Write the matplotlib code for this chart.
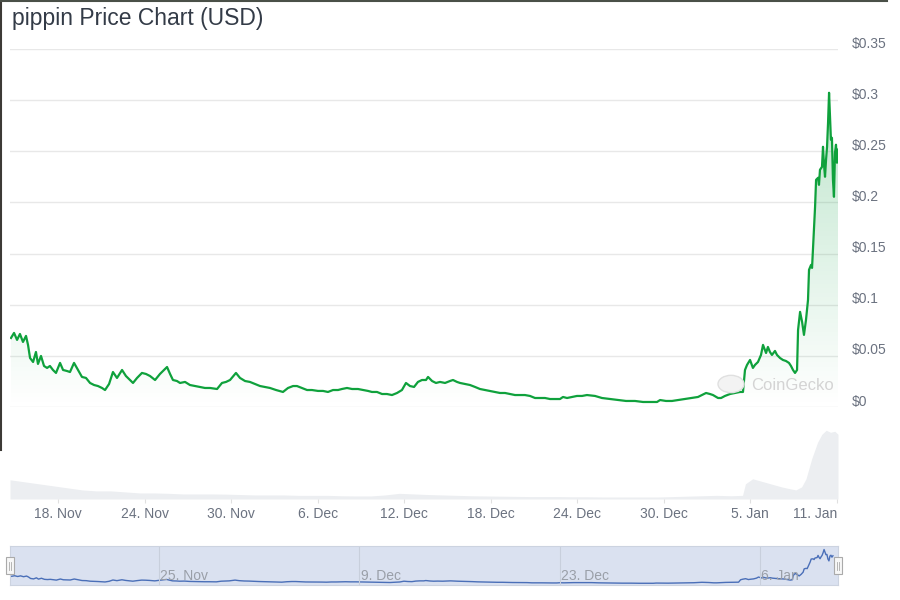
import numpy as np
import pandas as pd
import matplotlib
matplotlib.use('Agg')
import matplotlib.pyplot as plt
import matplotlib.dates as mdates
from matplotlib.transforms import ScaledTranslation
from matplotlib.patches import Rectangle, Circle
from matplotlib.lines import Line2D

plt.rcParams['font.family'] = ['Liberation Sans', 'DejaVu Sans']

start = pd.Timestamp('2024-11-14 16:00')

# price: days since start, USD
days = [0.07, 0.28, 0.49, 0.69, 0.90, 1.11, 1.25, 1.39, 1.60, 1.80,
        1.94, 2.15, 2.36, 2.57, 2.77, 2.98, 3.19, 3.47, 3.68, 3.95,
        4.16, 4.44, 4.72, 4.99, 5.27, 5.55, 5.83, 6.10, 6.38, 6.59,
        6.87, 7.14, 7.42, 7.77, 8.04, 8.32, 8.53, 8.81, 9.15, 9.43,
        9.71, 10.06, 10.40, 10.68, 10.89, 11.10, 11.30, 11.58, 11.79, 12.14,
        12.48, 12.83, 13.18, 13.52, 13.87, 14.36, 14.70, 14.98, 15.26, 15.67,
        15.95, 16.30, 16.64, 16.99, 17.34, 17.68, 18.03, 18.45, 18.93, 19.28,
        19.63, 19.90, 20.25, 20.60, 20.94, 21.36, 21.71, 22.05, 22.40, 22.75,
        23.02, 23.37, 23.72, 24.13, 24.48, 24.83, 25.10, 25.45, 25.80, 26.14,
        26.49, 26.84, 27.18, 27.46, 27.74, 28.02, 28.29, 28.57, 28.85, 28.99,
        29.27, 29.54, 29.82, 30.17, 30.51, 30.72, 31.00, 31.21, 31.55, 31.90,
        32.25, 32.59, 32.94, 33.29, 33.63, 33.98, 34.33, 34.67, 35.02, 35.37,
        35.71, 36.06, 36.41, 36.75, 37.10, 37.45, 37.79, 38.14, 38.35, 38.63,
        38.97, 39.32, 39.67, 40.01, 40.57, 41.05, 41.61, 42.16, 42.72, 43.34,
        43.90, 44.52, 44.87, 45.08, 45.49, 45.91, 46.33, 46.81, 47.30, 47.71,
        47.99, 48.27, 48.54, 48.75, 49.10, 49.31, 49.58, 49.93, 50.28, 50.62,
        50.83, 50.97, 51.11, 51.32, 51.52, 51.66, 51.87, 52.08, 52.22, 52.43,
        52.56, 52.70, 52.84, 53.05, 53.19, 53.40, 53.60, 53.81, 54.02, 54.16,
        54.30, 54.44, 54.58, 54.65, 54.79, 54.93, 55.06, 55.20, 55.34, 55.41,
        55.55, 55.62, 55.69, 55.83, 55.90, 56.04, 56.10, 56.17, 56.31, 56.38,
        56.45, 56.52, 56.59, 56.66, 56.73, 56.80, 56.86, 56.93, 57.00, 57.07,
        57.14, 57.21, 57.28, 57.35, 57.42]
prices = [0.0675, 0.0724, 0.0656, 0.0714, 0.0636, 0.0695, 0.0607, 0.0479, 0.0440, 0.0538,
          0.0421, 0.0499, 0.0401, 0.0382, 0.0401, 0.0362, 0.0333, 0.0431, 0.0362, 0.0352,
          0.0342, 0.0431, 0.0362, 0.0294, 0.0284, 0.0235, 0.0215, 0.0205, 0.0186, 0.0166,
          0.0225, 0.0342, 0.0284, 0.0362, 0.0303, 0.0264, 0.0235, 0.0284, 0.0333, 0.0323,
          0.0303, 0.0264, 0.0323, 0.0362, 0.0391, 0.0323, 0.0264, 0.0254, 0.0235, 0.0245,
          0.0215, 0.0205, 0.0196, 0.0186, 0.0186, 0.0176, 0.0235, 0.0245, 0.0264, 0.0333,
          0.0284, 0.0254, 0.0245, 0.0225, 0.0205, 0.0196, 0.0186, 0.0166, 0.0147, 0.0186,
          0.0205, 0.0205, 0.0186, 0.0166, 0.0166, 0.0157, 0.0157, 0.0147, 0.0166, 0.0166,
          0.0176, 0.0186, 0.0176, 0.0176, 0.0166, 0.0157, 0.0147, 0.0147, 0.0127, 0.0127,
          0.0117, 0.0137, 0.0166, 0.0235, 0.0205, 0.0196, 0.0245, 0.0264, 0.0264, 0.0294,
          0.0254, 0.0235, 0.0245, 0.0235, 0.0254, 0.0264, 0.0245, 0.0235, 0.0225, 0.0215,
          0.0196, 0.0176, 0.0166, 0.0157, 0.0147, 0.0137, 0.0137, 0.0127, 0.0117, 0.0117,
          0.0117, 0.0108, 0.0088, 0.0088, 0.0088, 0.0078, 0.0078, 0.0078, 0.0098, 0.0088,
          0.0098, 0.0108, 0.0108, 0.0117, 0.0108, 0.0088, 0.0078, 0.0068, 0.0059, 0.0059,
          0.0049, 0.0049, 0.0049, 0.0068, 0.0059, 0.0059, 0.0068, 0.0078, 0.0088, 0.0098,
          0.0117, 0.0137, 0.0127, 0.0117, 0.0088, 0.0088, 0.0108, 0.0127, 0.0137, 0.0147,
          0.0147, 0.0362, 0.0411, 0.0460, 0.0382, 0.0411, 0.0440, 0.0509, 0.0607, 0.0528,
          0.0587, 0.0538, 0.0509, 0.0548, 0.0509, 0.0479, 0.0460, 0.0450, 0.0431, 0.0401,
          0.0362, 0.0333, 0.0362, 0.0753, 0.0930, 0.0832, 0.0705, 0.0851, 0.1047, 0.1341,
          0.1389, 0.1360, 0.1566, 0.1957, 0.2221, 0.2241, 0.2172, 0.2319, 0.2348, 0.2544,
          0.2368, 0.2251, 0.2417, 0.2544, 0.2779, 0.3072, 0.2857, 0.2613, 0.2632, 0.2221,
          0.2055, 0.2485, 0.2564, 0.2388, 0.2515]

# volume (USD millions)
vol_days = [0, 1, 2, 3, 4, 5, 6, 7, 8, 9, 10, 11, 12, 13, 14, 15, 16, 17, 18, 19,
            20, 21, 22, 23, 24, 25, 26, 27, 28, 29, 30, 31, 32, 33, 34, 35, 36, 37, 38, 39,
            40, 41, 42, 43, 44, 45, 46, 47, 48, 49, 50, 50.8, 51.0, 51.5, 52.0, 52.5, 53.0, 53.5,
            54.0, 54.5, 54.9, 55.2, 55.6, 56.0, 56.3, 56.6, 56.9, 57.2, 57.42]
volume = [95, 85, 75, 65, 55, 45, 40, 40, 35, 30, 30, 28, 25, 25, 25, 24, 22, 20, 20, 20,
          18, 18, 18, 16, 15, 15, 20, 28, 25, 22, 20, 18, 16, 15, 14, 13, 12, 12, 12, 11,
          11, 10, 10, 10, 10, 10, 12, 14, 16, 18, 16, 18, 75, 100, 90, 80, 70, 60,
          52, 45, 60, 100, 200, 280, 320, 340, 330, 335, 320]

y_ticks = [0, 0.05, 0.1, 0.15, 0.2, 0.25, 0.3, 0.35]
y_labels = ['$0', '$0.05', '$0.1', '$0.15', '$0.2', '$0.25', '$0.3', '$0.35']
x_ticks = ['2024-11-18', '2024-11-24', '2024-11-30', '2024-12-06', '2024-12-12',
           '2024-12-18', '2024-12-24', '2024-12-30', '2025-01-05', '2025-01-11']
x_labels = ['18. Nov', '24. Nov', '30. Nov', '6. Dec', '12. Dec',
            '18. Dec', '24. Dec', '30. Dec', '5. Jan', '11. Jan']
nav_ticks = ['2024-11-25', '2024-12-09', '2024-12-23', '2025-01-06']
nav_labels = ['25. Nov', '9. Dec', '23. Dec', '6. Jan']

t = start + pd.to_timedelta(days, unit='D')
tv = start + pd.to_timedelta(vol_days, unit='D')
x0 = mdates.date2num(start)
x1 = mdates.date2num(start + pd.Timedelta(days=57.42))
# navigator window is a little wider than the main one
nav0 = mdates.date2num(pd.Timestamp('2024-11-25') - pd.Timedelta(days=10.38))
nav1 = mdates.date2num(pd.Timestamp('2024-11-25') + pd.Timedelta(days=47.44))

green = '#0fa13c'
grey_txt = '#6b7280'

fig = plt.figure(figsize=(9, 6), dpi=100)
W, H = 900, 600
def box(l, top, r, bot):
    return [l / W, 1 - bot / H, (r - l) / W, (bot - top) / H]

ax = fig.add_axes(box(10, 49, 838, 407))
axv = fig.add_axes(box(10, 407, 838, 499))
axn = fig.add_axes(box(10, 546, 838, 585))

# price
ax.plot(t, prices, color=green, lw=1.6, zorder=3, solid_joinstyle='round')
poly = ax.fill_between(t, prices, 0, color='none', lw=0)
grad = np.zeros((256, 1, 4))
grad[:, 0, 0] = 22 / 255
grad[:, 0, 1] = 163 / 255
grad[:, 0, 2] = 74 / 255
grad[:, 0, 3] = np.linspace(0.0, 0.32, 256)
im = ax.imshow(grad, extent=[x0, x1, 0, 0.35], origin='lower', aspect='auto', zorder=2)
im.set_clip_path(poly.get_paths()[0], ax.transData)
ax.set_xlim(x0, x1)
ax.set_ylim(0, 0.35)
ax.set_yticks(y_ticks)
ax.set_yticklabels(y_labels)
ax.yaxis.tick_right()
ax.tick_params(axis='y', length=0, pad=10, labelsize=10, labelcolor=grey_txt)
for lab in ax.get_yticklabels():
    lab.set_transform(lab.get_transform() + ScaledTranslation(0, 5 / 72, fig.dpi_scale_trans))
ax.set_xticks([])
ax.grid(axis='y', color='#e8e8e8', lw=1)
ax.set_axisbelow(True)
for s in ax.spines.values():
    s.set_visible(False)
ax.patch.set_alpha(0)

# watermark
fig.add_artist(Circle((731 / W, 1 - 384 / H), 13 / W, transform=fig.transFigure,
                      facecolor='#f3f3f3', edgecolor='#e0e0e0', lw=1, zorder=1))
fig.text(751 / W, 1 - 385 / H, 'CoinGecko', fontsize=12, color='#d4d4d4',
         va='center', ha='left')

# volume
axv.fill_between(tv, volume, 0, color='#eceef1', lw=0)
axv.set_xlim(x0, x1)
axv.set_ylim(0, 455)
axv.set_yticks([])
xt = mdates.date2num(pd.to_datetime(x_ticks))
axv.set_xticks(xt)
axv.set_xticklabels(x_labels)
axv.tick_params(axis='x', length=3, color='#e0e0e0', pad=2.5, labelsize=10, labelcolor=grey_txt)
axv.get_xticklabels()[-1].set_ha('right')
for s in axv.spines.values():
    s.set_visible(False)
axv.patch.set_alpha(0)

# navigator
axn.set_facecolor('#dae1f0')
axn.plot(t, prices, color='#4a6fb8', lw=1)
axn.set_xlim(nav0, nav1)
axn.set_ylim(-0.0106, 0.339)
axn.set_xticks([])
axn.set_yticks([])
for s in axn.spines.values():
    s.set_color('#ccd3e0')
    s.set_linewidth(0.8)
for d, lab in zip(nav_ticks, nav_labels):
    xd = mdates.date2num(pd.Timestamp(d))
    axn.axvline(xd, color='#c8cfdc', lw=0.8)
    axn.text(xd, 0.22, lab, fontsize=10, color='#9a9fa8', ha='left', va='center',
             transform=axn.get_xaxis_transform() + ScaledTranslation(1 / 72, 0, fig.dpi_scale_trans))
for hx in (0.0, 1.0):
    axn.add_patch(Rectangle((hx - 4 / 828, 0.27), 8 / 828, 0.45, transform=axn.transAxes,
                            facecolor='#f7f7f7', edgecolor='#aaaaaa', lw=0.8,
                            clip_on=False, zorder=5))
    for dx in (-1.2, 1.2):
        axn.add_artist(Line2D([hx + dx / 828] * 2, [0.38, 0.6], transform=axn.transAxes,
                              color='#aaaaaa', lw=0.6, clip_on=False, zorder=6))

# title
fig.text(12 / W, 1 - 18 / H, 'pippin Price Chart (USD)', fontsize=16.5, color='#333b47',
         va='center', ha='left')

# screenshot border
fig.add_artist(Line2D([0.001, 0.001], [1, 1 - 450 / H], transform=fig.transFigure,
                      color='#3c3a36', lw=1.5))
fig.add_artist(Line2D([0, 0.985], [0.999, 0.999], transform=fig.transFigure,
                      color='#4a5048', lw=1.5))

fig.savefig('out.png', dpi=100)
